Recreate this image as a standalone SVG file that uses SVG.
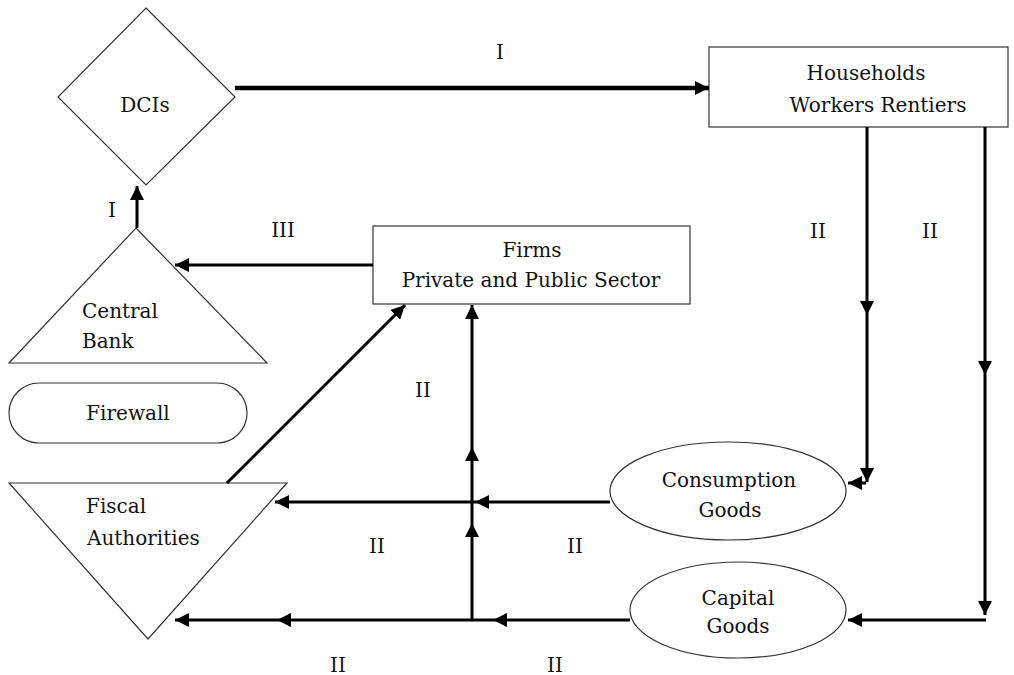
<svg xmlns="http://www.w3.org/2000/svg" width="1014" height="675" viewBox="0 0 1014 675">
<style>
.shape{fill:#fff;stroke:#333;stroke-width:1.2}
.t{font-family:"DejaVu Serif","Liberation Serif",serif;font-size:20px;fill:#111}
.c{text-anchor:middle}
.ln{stroke:#000;stroke-width:3;fill:none}
.thick{stroke-width:4.5}
</style>
<defs>
<marker id="ah" viewBox="0 0 14 14" refX="14" refY="7" markerWidth="14" markerHeight="14" markerUnits="userSpaceOnUse" orient="auto">
<path d="M0,0 L14,7 L0,14 z" fill="#000"/>
</marker>
</defs>
<rect width="1014" height="675" fill="#fff"/>
<g id="dcis">
<polygon class="shape" points="146,8 235,97 146,185 58,97"/>
<text class="t c" x="145" y="112">DCIs</text>
</g>
<g id="households">
<rect class="shape" x="709" y="47" width="299" height="80"/>
<text class="t c" x="866" y="80">Households</text>
<text class="t c" x="878" y="112">Workers Rentiers</text>
</g>
<g id="firms">
<rect class="shape" x="373" y="226" width="317" height="78"/>
<text class="t c" x="532" y="257">Firms</text>
<text class="t c" x="531" y="287">Private and Public Sector</text>
</g>
<g id="central-bank">
<polygon class="shape" points="136,228 267,363 9,363"/>
<text class="t" x="82" y="318">Central</text>
<text class="t" x="82" y="348">Bank</text>
</g>
<g id="firewall">
<rect class="shape" x="9" y="383" width="238" height="60" rx="30" ry="30"/>
<text class="t c" x="128" y="420">Firewall</text>
</g>
<g id="fiscal">
<polygon class="shape" points="9,483 287,483 148,639"/>
<text class="t" x="86" y="513">Fiscal</text>
<text class="t" x="87" y="545">Authorities</text>
</g>
<g id="consumption">
<ellipse class="shape" cx="728" cy="491" rx="118" ry="49"/>
<text class="t c" x="729" y="487">Consumption</text>
<text class="t c" x="730" y="517">Goods</text>
</g>
<g id="capital">
<ellipse class="shape" cx="738" cy="610" rx="108" ry="48"/>
<text class="t c" x="738" y="605">Capital</text>
<text class="t c" x="738" y="633">Goods</text>
</g>
<g id="connectors">
<line class="ln thick" x1="235" y1="88" x2="709" y2="88" marker-end="url(#ah)"/>
<line class="ln" x1="137" y1="228" x2="137" y2="186" marker-end="url(#ah)"/>
<line class="ln" x1="373" y1="265" x2="175" y2="265" marker-end="url(#ah)"/>
<line class="ln" x1="227" y1="483" x2="405" y2="305" marker-end="url(#ah)"/>
<line class="ln" x1="472" y1="620" x2="472" y2="523" marker-end="url(#ah)"/>
<line class="ln" x1="472" y1="523" x2="472" y2="447" marker-end="url(#ah)"/>
<line class="ln" x1="472" y1="447" x2="472" y2="305" marker-end="url(#ah)"/>
<line class="ln" x1="610" y1="502" x2="475" y2="502" marker-end="url(#ah)"/>
<line class="ln" x1="475" y1="502" x2="275" y2="502" marker-end="url(#ah)"/>
<line class="ln" x1="630" y1="620" x2="493" y2="620" marker-end="url(#ah)"/>
<line class="ln" x1="493" y1="620" x2="277" y2="620" marker-end="url(#ah)"/>
<line class="ln" x1="277" y1="620" x2="175" y2="620" marker-end="url(#ah)"/>
<line class="ln" x1="867" y1="127" x2="867" y2="315" marker-end="url(#ah)"/>
<line class="ln" x1="867" y1="315" x2="867" y2="482" marker-end="url(#ah)"/>
<line class="ln" x1="866" y1="483" x2="848" y2="483" marker-end="url(#ah)"/>
<line class="ln" x1="985" y1="127" x2="985" y2="375" marker-end="url(#ah)"/>
<line class="ln" x1="985" y1="375" x2="985" y2="615" marker-end="url(#ah)"/>
<line class="ln" x1="986" y1="620" x2="848" y2="620" marker-end="url(#ah)"/>
</g>
<g id="labels">
<text class="t c" x="500" y="59">I</text>
<text class="t c" x="112" y="217">I</text>
<text class="t c" x="283" y="237">III</text>
<text class="t c" x="818" y="238">II</text>
<text class="t c" x="930" y="238">II</text>
<text class="t c" x="423" y="397">II</text>
<text class="t c" x="377" y="553">II</text>
<text class="t c" x="575" y="553">II</text>
<text class="t c" x="338" y="672">II</text>
<text class="t c" x="555" y="672">II</text>
</g>
</svg>
